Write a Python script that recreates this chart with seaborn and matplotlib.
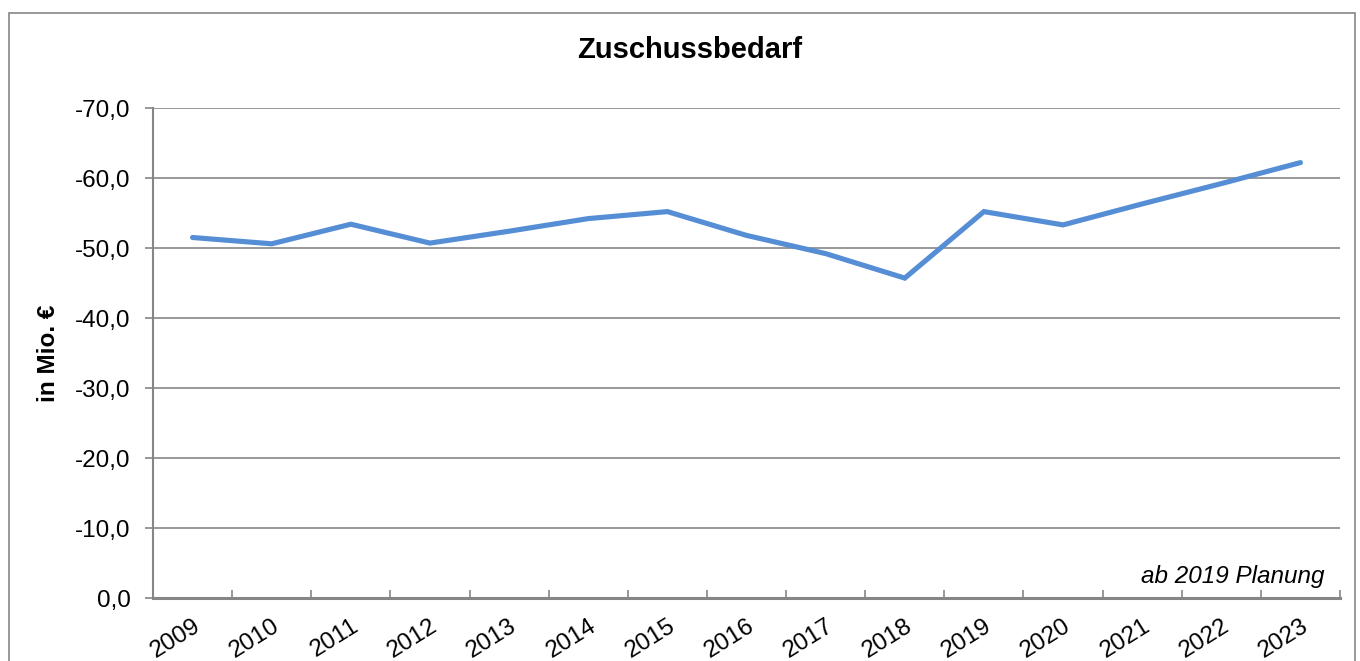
import numpy as np
import pandas as pd
import matplotlib
matplotlib.use("Agg")
import matplotlib.pyplot as plt
from matplotlib.patches import Rectangle
import seaborn as sns

# data
jahre = [str(j) for j in range(2009, 2024)]
zuschuss = [-51.5, -50.6, -53.4, -50.7, -52.4, -54.2, -55.2, -51.8, -49.2,
            -45.7, -55.2, -53.3, -56.3, -59.2, -62.2]
y_ticks = [0, -10, -20, -30, -40, -50, -60, -70]

sns.set_theme(style="white")
plt.rcParams["font.family"] = ["Liberation Sans", "DejaVu Sans"]
plt.rcParams["text.color"] = "black"
plt.rcParams["xtick.color"] = "black"
plt.rcParams["ytick.color"] = "black"
plt.rcParams["axes.labelcolor"] = "black"

grau = "#868686"
blau = "#558ED5"

df = pd.DataFrame({"pos": np.arange(len(jahre)), "wert": zuschuss})

fig = plt.figure(figsize=(13.6, 6.61), dpi=100)
ax = fig.add_axes([153 / 1360, 1 - 598 / 661, (1340 - 153) / 1360, (598 - 108) / 661])

sns.lineplot(data=df, x="pos", y="wert", ax=ax, color=blau, linewidth=3.7,
             solid_capstyle="round", solid_joinstyle="miter")

ax.set_xlim(-0.5, len(jahre) - 0.5)
ax.set_ylim(0, -70)

# y axis
ax.set_yticks(y_ticks)
ax.set_yticklabels([f"{v:.1f}".replace(".", ",") for v in y_ticks], fontsize=17.5)
ax.yaxis.grid(True, color=grau, linewidth=1.2)
ax.tick_params(axis="y", length=6, width=1.2, color=grau, pad=10, left=True)
ax.set_ylabel("in Mio. €", fontsize=17.5, fontweight="bold", labelpad=11)

# x axis: ticks between categories (pointing inwards), labels at centres
ax.set_xticks(np.arange(-0.5, len(jahre)), labels=[])
ax.set_xticks(np.arange(len(jahre)), labels=jahre, minor=True)
ax.tick_params(axis="x", which="major", length=6, width=1.2, color=grau,
               bottom=True, direction="in")
ax.tick_params(axis="x", which="minor", length=0, pad=12)
for lab in ax.get_xticklabels(minor=True):
    lab.set_rotation(32)
    lab.set_ha("right")
    lab.set_rotation_mode("anchor")
    lab.set_fontsize(17.5)
ax.set_xlabel("")

for s in ["top", "right"]:
    ax.spines[s].set_visible(False)
ax.spines["left"].set_color(grau)
ax.spines["left"].set_linewidth(1.5)
ax.spines["bottom"].set_color(grau)
ax.spines["bottom"].set_linewidth(2.2)
ax.set_axisbelow(True)

ax.text(0.987, 0.043, "ab 2019 Planung", transform=ax.transAxes, ha="right",
        va="center", fontsize=17.5, fontstyle="italic")

fig.text(690 / 1360, 1 - 50 / 661, "Zuschussbedarf", ha="center", va="center",
         fontsize=21, fontweight="bold")

# outer chart border
fig.patches.append(Rectangle((9 / 1360, -0.05), (1355 - 9) / 1360, 1.05 - 13 / 661,
                             transform=fig.transFigure, fill=False,
                             edgecolor=grau, linewidth=1.2))

fig.savefig("out.png", dpi=100)
